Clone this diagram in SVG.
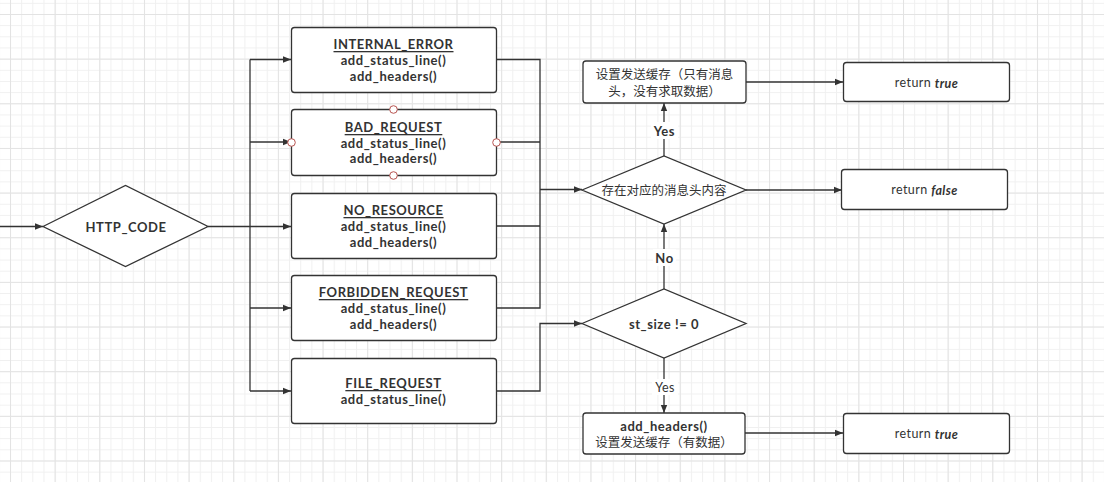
<svg xmlns="http://www.w3.org/2000/svg" width="1104" height="482" viewBox="0 0 1104 482">
<defs>
<pattern id="minor" x="10" y="14" width="11.1625" height="11.1625" patternUnits="userSpaceOnUse">
<path d="M0.5 0V11.1625M0 0.5H11.1625" fill="none" stroke="#f0f0f0" stroke-width="1"/>
</pattern>
<pattern id="major" x="10" y="14" width="44.65" height="44.65" patternUnits="userSpaceOnUse">
<path d="M0.5 0V44.65M0 0.5H44.65" fill="none" stroke="#e3e3e3" stroke-width="1"/>
</pattern>
<marker id="arr" viewBox="0 0 10 10" refX="10" refY="5" markerWidth="8" markerHeight="8" markerUnits="userSpaceOnUse" orient="auto">
<path d="M0 1L10 5L0 9Z" fill="#333"/>
</marker>
</defs>
<style>
.box{fill:#fff;stroke:#333;stroke-width:1.3}
.ln{fill:none;stroke:#333;stroke-width:1.3}
.a{marker-end:url(#arr)}
text{font-family:Lato,"Noto Sans CJK SC",sans-serif;fill:#333;text-anchor:middle;dominant-baseline:central}
.b{font-weight:bold;font-size:13px;letter-spacing:0.55px}
.t{text-decoration:underline}
.n{font-size:12.5px}
.r{font-size:12.5px;letter-spacing:0.4px}
.bi{font-weight:bold;font-style:italic}
.lbl{fill:#fff;stroke:none}
.pt{fill:#fff;stroke:#b85450;stroke-width:1}
</style>
<rect width="1104" height="482" fill="#fff"/>
<rect width="1104" height="482" fill="url(#minor)"/>
<rect width="1104" height="482" fill="url(#major)"/>

<g id="connectors">
<path class="ln a" d="M0 226.5H43"/>
<path class="ln" d="M208 226.5H250"/>
<path class="ln" d="M250 59.5V391"/>
<path class="ln a" d="M250 59.5H291"/>
<path class="ln a" d="M250 142H291"/>
<path class="ln a" d="M250 226.5H291"/>
<path class="ln a" d="M250 308H291"/>
<path class="ln a" d="M250 391H291"/>
<path class="ln" d="M496 59.5H540V308H496"/>
<path class="ln" d="M496 142H540"/>
<path class="ln" d="M496 226H540"/>
<path class="ln a" d="M540 189.5H582"/>
<path class="ln a" d="M496 391H540V323.5H582"/>
<path class="ln a" d="M664 156V103"/>
<path class="ln a" d="M746 82H843"/>
<path class="ln a" d="M746 190H842"/>
<path class="ln a" d="M664 289V224"/>
<path class="ln a" d="M664 358V413"/>
<path class="ln a" d="M745 433H843"/>
<rect class="lbl" x="651" y="122" width="27" height="17"/>
<text class="b" x="664.5" y="130.5">Yes</text>
<rect class="lbl" x="653" y="249" width="23" height="17"/>
<text class="b" x="664.5" y="258">No</text>
<rect class="lbl" x="652" y="379" width="26" height="16"/>
<text class="r" x="665" y="387">Yes</text>
</g>

<g id="http_code">
<path class="box" d="M43 226.5L125.5 185.5L208 226.5L125.5 266.5Z"/>
<text class="b" x="126" y="226.5">HTTP_CODE</text>
</g>

<g id="internal_error">
<rect class="box" x="291.5" y="27.5" width="205" height="65" rx="3"/>
<text class="b t" x="393.5" y="44">INTERNAL_ERROR</text>
<text class="b" x="393.5" y="60">add_status_line()</text>
<text class="b" x="393.5" y="75.5">add_headers()</text>
</g>

<g id="bad_request">
<rect class="box" x="291.5" y="109.5" width="205" height="66" rx="3"/>
<text class="b t" x="393.5" y="127">BAD_REQUEST</text>
<text class="b" x="393.5" y="142.5">add_status_line()</text>
<text class="b" x="393.5" y="158">add_headers()</text>
<circle class="pt" cx="393.5" cy="109.5" r="3.8"/>
<circle class="pt" cx="393.5" cy="175.5" r="3.8"/>
<circle class="pt" cx="291.5" cy="142.5" r="3.8"/>
<circle class="pt" cx="496.5" cy="142.5" r="3.8"/>
</g>

<g id="no_resource">
<rect class="box" x="291.5" y="193.5" width="205" height="65" rx="3"/>
<text class="b t" x="393.5" y="210">NO_RESOURCE</text>
<text class="b" x="393.5" y="226">add_status_line()</text>
<text class="b" x="393.5" y="241.5">add_headers()</text>
</g>

<g id="forbidden_request">
<rect class="box" x="291.5" y="275.5" width="205" height="65" rx="3"/>
<text class="b t" x="393.5" y="292">FORBIDDEN_REQUEST</text>
<text class="b" x="393.5" y="308">add_status_line()</text>
<text class="b" x="393.5" y="323.5">add_headers()</text>
</g>

<g id="file_request">
<rect class="box" x="291.5" y="358.5" width="205" height="65" rx="3"/>
<text class="b t" x="393.5" y="383">FILE_REQUEST</text>
<text class="b" x="393.5" y="399">add_status_line()</text>
</g>

<g id="has_header">
<path class="box" d="M582 190L664 156L746 190L664 224Z"/>
<text class="n" x="664" y="190">存在对应的消息头内容</text>
</g>

<g id="set_buffer_header">
<rect class="box" x="583" y="61" width="163" height="42" rx="3"/>
<text class="n" x="664.5" y="74.5">设置发送缓存（只有消息</text>
<text class="n" x="664.5" y="91.5">头，没有求取数据）</text>
</g>

<g id="return_true_1">
<rect class="box" x="843.5" y="62.5" width="166" height="39" rx="3"/>
<text class="r" x="926.5" y="82.5">return <tspan class="bi">true</tspan></text>
</g>

<g id="return_false">
<rect class="box" x="841.5" y="169.5" width="166" height="40" rx="3"/>
<text class="r" x="924.5" y="189.5">return <tspan class="bi">false</tspan></text>
</g>

<g id="st_size">
<path class="box" d="M582 323.5L664 289L746 323.5L664 358Z"/>
<text class="b" x="664" y="324">st_size != 0</text>
</g>

<g id="set_buffer_data">
<rect class="box" x="583" y="413" width="162" height="41" rx="3"/>
<text class="b" x="664" y="425.5">add_headers()</text>
<text class="n" x="664" y="442">设置发送缓存（有数据）</text>
</g>

<g id="return_true_2">
<rect class="box" x="843.5" y="413.5" width="166" height="40" rx="3"/>
<text class="r" x="926.5" y="433.5">return <tspan class="bi">true</tspan></text>
</g>
</svg>
